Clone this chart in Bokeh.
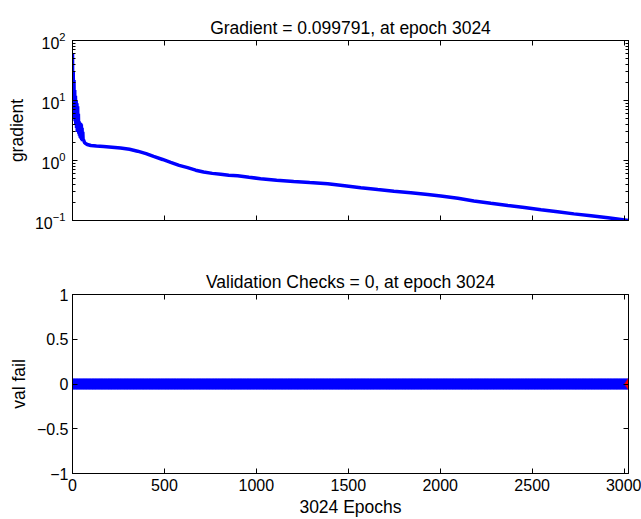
import numpy as np
from bokeh.plotting import figure
from bokeh.layouts import column
from bokeh.models import (Range1d, LinearAxis, LogAxis, FixedTicker, LogTicker,
                          CustomJSTickFormatter)
from bokeh.embed import file_html
from bokeh.resources import INLINE

# ---------------- data ----------------
grad_epochs = [0, 2, 4, 6, 8, 10, 12, 14, 16, 18, 20, 22, 24, 26, 28, 30, 32, 34, 36,
               38, 40, 42, 44, 46, 48, 50, 52, 54, 56, 58, 60, 65, 71, 80, 100, 130,
               169, 215, 261, 310, 354, 400, 441, 490, 534, 580, 626, 670, 713, 760,
               806, 850, 898, 960, 1023, 1110, 1203, 1290, 1388, 1480, 1568, 1660,
               1748, 1840, 1932, 2003, 2096, 2183, 2275, 2368, 2458, 2548, 2638, 2727,
               2820, 2912, 3024]
grad_values = [60, 6, 30, 5.5, 22, 5, 15, 4.5, 12, 4, 10, 3.5, 9, 3, 8, 3, 6, 2.8, 4.5,
               2.6, 4.3, 2.4, 4.2, 2.3, 4.0, 2.2, 3.5, 2.1, 3.0, 2.1, 2.2, 2.0, 1.92,
               1.85, 1.78, 1.74, 1.71, 1.67, 1.62, 1.54, 1.43, 1.3, 1.17, 1.04, 0.93,
               0.83, 0.76, 0.69, 0.645, 0.61, 0.59, 0.57, 0.555, 0.525, 0.498, 0.47,
               0.447, 0.428, 0.408, 0.38, 0.352, 0.328, 0.308, 0.29, 0.271, 0.255,
               0.235, 0.212, 0.194, 0.178, 0.164, 0.151, 0.14, 0.129, 0.12, 0.111,
               0.099791]

val_epochs = list(range(0, 3025))
val_fail = [0] * len(val_epochs)
best_epoch = [3024]
best_val = [0]

x_ticks = [0, 500, 1000, 1500, 2000, 2500, 3000]
grad_ticks = [0.1, 1, 10, 100]
val_ticks = [-1, -0.5, 0, 0.5, 1]

grad_title = "Gradient = 0.099791, at epoch 3024"
val_title = "Validation Checks = 0, at epoch 3024"
grad_ylabel = "gradient"
val_ylabel = "val fail"
xlabel = "3024 Epochs"

# ---------------- style ----------------
FONT = "Liberation Sans"
TICK_FS = "16px"
LABEL_FS = "17.5px"
W = 641
BL = 72
BR = 13


def style_axis(ax, labels=True):
    ax.axis_line_color = "black"
    ax.axis_line_width = 1
    ax.major_tick_in = 5
    ax.major_tick_out = 0
    ax.minor_tick_in = 0
    ax.minor_tick_out = 0
    ax.major_tick_line_color = "black"
    ax.major_label_text_font = FONT
    ax.major_label_text_font_size = TICK_FS
    ax.major_label_text_color = "black"
    ax.major_label_standoff = 4
    ax.axis_label_text_font = FONT
    ax.axis_label_text_font_size = LABEL_FS
    ax.axis_label_text_font_style = "normal"
    ax.axis_label_text_color = "black"
    if not labels:
        ax.formatter = CustomJSTickFormatter(code="return ''")


def style_fig(p, title):
    p.title.text = title
    p.title.text_font = FONT
    p.title.text_font_size = LABEL_FS
    p.title.text_font_style = "normal"
    p.title.text_color = "black"
    p.title.align = "center"
    p.title.standoff = 5
    p.outline_line_color = "black"
    p.outline_line_width = 1
    p.xgrid.visible = False
    p.ygrid.visible = False
    p.background_fill_color = "white"
    p.border_fill_color = "white"


x_range = Range1d(0, 3024)

# ---------------- top: gradient ----------------
p1 = figure(width=W, height=252, x_range=x_range, y_range=Range1d(0.1, 100),
            y_axis_type="log", output_backend="svg", toolbar_location=None,
            min_border_left=BL, min_border_right=BR, min_border_top=40,
            min_border_bottom=32)
style_fig(p1, grad_title)
p1.line(grad_epochs, grad_values, line_width=3.5, line_color="#0000FF")

p1.xaxis.ticker = FixedTicker(ticks=x_ticks)
style_axis(p1.xaxis[0], labels=False)
p1.yaxis.ticker = LogTicker(num_minor_ticks=10)
style_axis(p1.yaxis[0])
p1.yaxis.minor_tick_in = 3
p1.yaxis.minor_tick_line_color = "black"
p1.yaxis.axis_label = grad_ylabel
p1.yaxis.major_label_standoff = 7

ax_top1 = LinearAxis(ticker=FixedTicker(ticks=x_ticks))
style_axis(ax_top1, labels=False)
p1.add_layout(ax_top1, "above")
ax_right1 = LogAxis(ticker=LogTicker(num_minor_ticks=10))
style_axis(ax_right1, labels=False)
ax_right1.minor_tick_in = 3
ax_right1.minor_tick_line_color = "black"
p1.add_layout(ax_right1, "right")

# ---------------- bottom: validation checks ----------------
p2 = figure(width=W, height=267, x_range=x_range, y_range=Range1d(-1, 1),
            output_backend="svg", toolbar_location=None,
            min_border_left=BL, min_border_right=BR, min_border_top=42,
            min_border_bottom=45)
style_fig(p2, val_title)
p2.scatter(val_epochs, val_fail, marker="diamond", size=11,
           fill_color="#0000FF", line_color=None)
p2.scatter(best_epoch, best_val, marker="diamond", size=12,
           fill_color="#FF0000", line_color="#E00000", line_width=0.5)

p2.xaxis.ticker = FixedTicker(ticks=x_ticks)
style_axis(p2.xaxis[0])
p2.xaxis.axis_label = xlabel
p2.xaxis.major_label_standoff = 5
p2.xaxis.axis_label_standoff = 3
p2.yaxis.ticker = FixedTicker(ticks=val_ticks)
style_axis(p2.yaxis[0])
p2.yaxis.axis_label = val_ylabel

ax_top2 = LinearAxis(ticker=FixedTicker(ticks=x_ticks))
style_axis(ax_top2, labels=False)
p2.add_layout(ax_top2, "above")
ax_right2 = LinearAxis(ticker=FixedTicker(ticks=val_ticks))
style_axis(ax_right2, labels=False)
p2.add_layout(ax_right2, "right")

layout = column(p1, p2, spacing=0)

open("out.html", "w").write(file_html(layout, INLINE))
